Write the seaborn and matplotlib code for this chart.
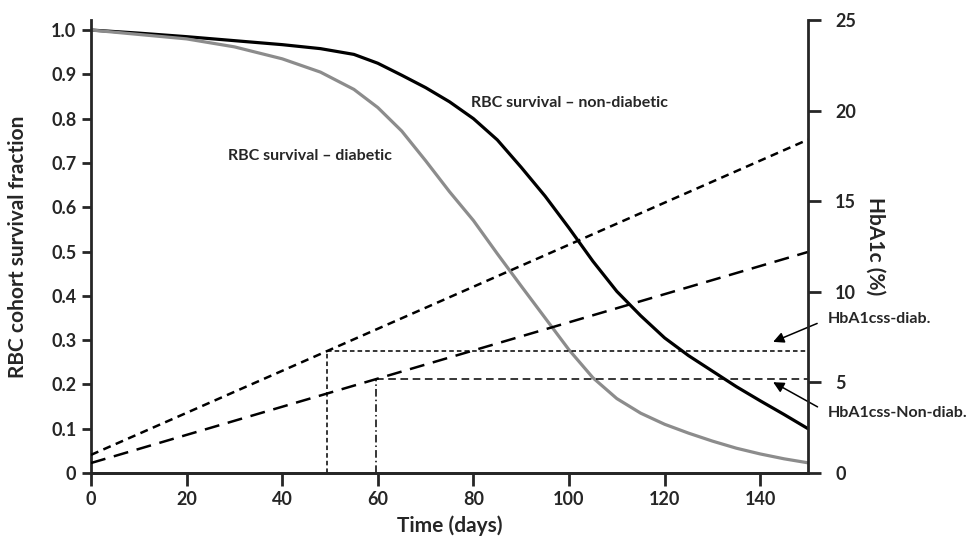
import numpy as np
import pandas as pd
import matplotlib
matplotlib.use('Agg')
import matplotlib.pyplot as plt
import seaborn as sns

# RBC survival curves
days = [0, 10, 20, 30, 40, 48, 55, 60, 65, 70, 75, 80, 85, 90, 95, 100,
        105, 110, 115, 120, 125, 130, 135, 140, 145, 150]
surv_non_diab = [1.0, 0.993, 0.985, 0.976, 0.967, 0.958, 0.945, 0.925, 0.898, 0.87,
                 0.838, 0.80, 0.752, 0.69, 0.625, 0.553, 0.478, 0.41, 0.355, 0.305,
                 0.265, 0.23, 0.195, 0.163, 0.132, 0.10]
surv_diab = [1.0, 0.99, 0.98, 0.962, 0.935, 0.905, 0.866, 0.825, 0.772, 0.705,
             0.635, 0.57, 0.495, 0.422, 0.35, 0.278, 0.215, 0.168, 0.135, 0.11,
             0.09, 0.072, 0.056, 0.043, 0.032, 0.023]

# HbA1c build-up lines (right axis, %)
hba1c_days = [0, 150]
hba1c_diab = [1.0, 18.4]
hba1c_non_diab = [0.55, 12.2]

# steady-state markers
css_diab_day, css_diab_val = 49.4, 6.75
css_non_diab_day, css_non_diab_val = 59.6, 5.2

x_ticks = [0, 20, 40, 60, 80, 100, 120, 140]
left_ticks = [0, 0.1, 0.2, 0.3, 0.4, 0.5, 0.6, 0.7, 0.8, 0.9, 1.0]
left_labels = ['0', '0.1', '0.2', '0.3', '0.4', '0.5', '0.6', '0.7', '0.8', '0.9', '1.0']
right_ticks = [0, 5, 10, 15, 20, 25]

sns.set_style('ticks')
plt.rcParams['font.family'] = ['Lato', 'DejaVu Sans']

df = pd.DataFrame({'day': days, 'non_diab': surv_non_diab, 'diab': surv_diab})

fig = plt.figure(figsize=(9.67, 5.41), dpi=100)
ax = fig.add_axes([0.0941, 0.1257, 0.7415, 0.8373])
ax2 = ax.twinx()

sns.lineplot(data=df, x='day', y='non_diab', ax=ax, color='black', linewidth=2.3)
sns.lineplot(data=df, x='day', y='diab', ax=ax, color='#8c8c8c', linewidth=2.3)

# HbA1c lines on right axis
ax2.plot(hba1c_days, hba1c_diab, color='black', linewidth=1.8, dashes=(3.2, 2.2))
ax2.plot(hba1c_days, hba1c_non_diab, color='black', linewidth=1.8, dashes=(6, 3.5))

# steady-state guides
ax2.plot([css_diab_day, css_diab_day], [0, css_diab_val], color='black', lw=1.1, dashes=(3, 2))
ax2.plot([css_diab_day, 150], [css_diab_val, css_diab_val], color='black', lw=1.1, dashes=(3, 2))
ax2.plot([css_non_diab_day, css_non_diab_day], [0, css_non_diab_val], color='black', lw=1.1,
         dashes=(5, 2, 1, 2))
ax2.plot([css_non_diab_day, 150], [css_non_diab_val, css_non_diab_val], color='black', lw=1.1,
         dashes=(5, 3))

ax.set_xlim(0, 150)
ax.set_ylim(0, 1.0226)
ax2.set_ylim(0, 25)

ax.set_xticks(x_ticks)
ax.set_yticks(left_ticks)
ax.set_yticklabels(left_labels)
ax2.set_yticks(right_ticks)

for a in (ax, ax2):
    a.spines['top'].set_visible(False)
    for s in a.spines.values():
        s.set_linewidth(2)
ax.spines['right'].set_visible(False)
ax2.spines['left'].set_visible(False)

ax.tick_params(axis='y', direction='out', length=6.5, width=2, pad=4, labelsize=13)
ax.tick_params(axis='x', direction='out', length=9, width=2, pad=4, labelsize=13)
ax2.tick_params(axis='y', direction='out', length=9.5, width=2, pad=10, labelsize=13)
for lab in ax.get_xticklabels() + ax.get_yticklabels() + ax2.get_yticklabels():
    lab.set_fontweight('bold')

ax.set_xlabel('Time (days)', fontsize=15, fontweight='bold', labelpad=5)
ax.set_ylabel('RBC cohort survival fraction', fontsize=15, fontweight='bold')
ax.yaxis.set_label_coords(-0.088, 0.5)
ax2.set_ylabel('HbA1c (%)', fontsize=15, fontweight='bold', rotation=270, labelpad=0)
ax2.yaxis.set_label_coords(1.108, 0.5)

ax.text(79.5, 0.835, 'RBC survival \u2013 non-diabetic', fontsize=11.5, fontweight='bold',
        ha='left', va='center')
ax.text(28.7, 0.716, 'RBC survival \u2013 diabetic', fontsize=11.5, fontweight='bold',
        ha='left', va='center')

arrow = dict(arrowstyle='-|>', color='black', lw=1.1, mutation_scale=16,
             relpos=(0, 0.5), shrinkA=6, shrinkB=0)
ax.annotate('HbA1css-diab.', xy=(142.7, 0.296), xytext=(154.2, 0.348),
            fontsize=11.5, fontweight='bold', ha='left', va='center',
            arrowprops=arrow, annotation_clip=False)
ax.annotate('HbA1css-Non-diab.', xy=(142.7, 0.205), xytext=(154.2, 0.136),
            fontsize=11.5, fontweight='bold', ha='left', va='center',
            arrowprops=arrow, annotation_clip=False)

fig.savefig('out.png', dpi=100)
